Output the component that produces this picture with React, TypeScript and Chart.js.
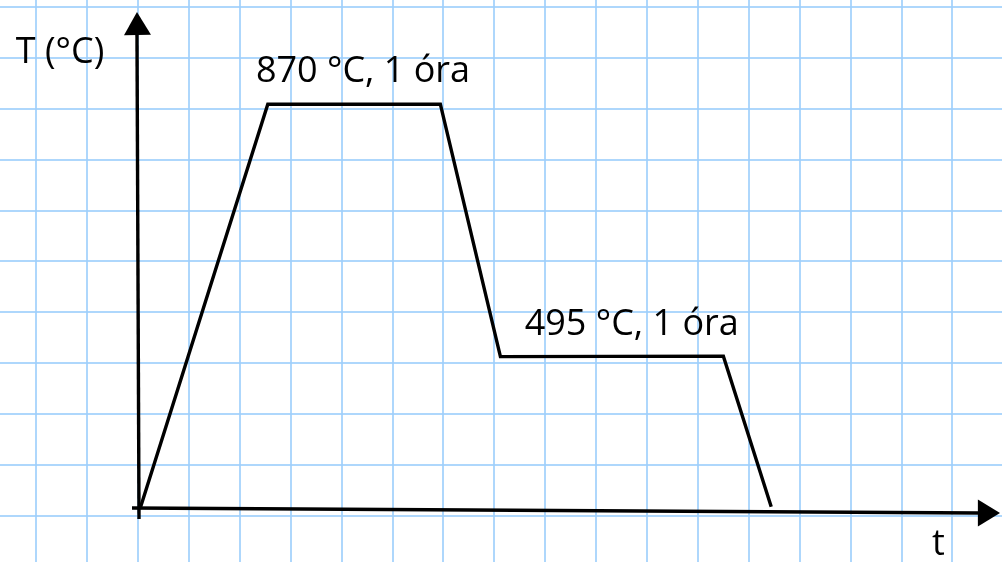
import React, { useEffect, useRef } from "react";
import { Chart, registerables } from "chart.js";

Chart.register(...registerables);

// Schematic heat-treatment profile, in grid units (1 unit = 1 grid cell)
const XMIN = -2.711;
const XMAX = 16.974;
const YMIN = -0.904;
const YMAX = 10.137;

const profileX = [0.04, 2.55, 5.94, 7.12, 11.5, 12.44];
const profileY = [0.14, 8.09, 8.09, 3.13, 3.14, 0.18];

const yAxisX = [0.02, -0.02];
const yAxisY = [-0.06, 9.45];
const xAxisX = [-0.118, 16.54];
const xAxisY = [0.157, 0.059];

// arrowheads: [tipX, tipY, baseX, baseY]
const arrowHeads = [
  [-0.02, 9.9, -0.01, 9.45],
  [16.935, 0.059, 16.5, 0.059],
];

const labelTexts = ["T (°C)", "870 °C, 1 óra", "495 °C, 1 óra", "t"];
const labelX = [-1.532, 4.42, 9.7, 15.727];
const labelY = [8.9, 8.527, 3.556, -0.766];

const FONT = '36px "Open Sans", "Noto Sans", sans-serif';
const GRID = "rgba(160, 208, 252, 0.85)";

const pts = (xs: number[], ys: number[]) => xs.map((x, i) => ({ x, y: ys[i] }));

const overlayPlugin = {
  id: "overlay",
  afterDatasetsDraw(chart: any) {
    const { ctx, scales } = chart;
    const xs = scales.x;
    const ys = scales.y;
    ctx.save();
    ctx.fillStyle = "#000";
    arrowHeads.forEach(([tx, ty, bx, by]) => {
      const px = xs.getPixelForValue(tx);
      const py = ys.getPixelForValue(ty);
      const qx = xs.getPixelForValue(bx);
      const qy = ys.getPixelForValue(by);
      const dx = px - qx;
      const dy = py - qy;
      const len = Math.hypot(dx, dy) || 1;
      const nx = -dy / len;
      const ny = dx / len;
      const hw = 13.5;
      ctx.beginPath();
      ctx.moveTo(px, py);
      ctx.lineTo(qx + nx * hw, qy + ny * hw);
      ctx.lineTo(qx - nx * hw, qy - ny * hw);
      ctx.closePath();
      ctx.fill();
    });
    ctx.font = FONT;
    ctx.textAlign = "center";
    ctx.textBaseline = "alphabetic";
    ctx.fillStyle = "#000";
    labelTexts.forEach((t, i) => {
      ctx.fillText(t, xs.getPixelForValue(labelX[i]), ys.getPixelForValue(labelY[i]));
    });
    ctx.restore();
  },
};

export default function App() {
  const ref = useRef<HTMLCanvasElement | null>(null);
  useEffect(() => {
    document.body.style.margin = "0";
    if (!ref.current) return;
    const lineDs = (data: any[], width: number) => ({
      data,
      borderColor: "#000",
      borderWidth: width,
      pointRadius: 0,
      tension: 0,
      fill: false,
      borderJoinStyle: "miter" as const,
      borderCapStyle: "butt" as const,
    });
    const chart = new Chart(ref.current, {
      type: "line",
      data: {
        datasets: [
          lineDs(pts(profileX, profileY), 3.4),
          lineDs(pts(yAxisX, yAxisY), 3.4),
          lineDs(pts(xAxisX, xAxisY), 3.4),
        ],
      },
      options: {
        animation: false,
        responsive: false,
        maintainAspectRatio: false,
        layout: { padding: 0 },
        plugins: { legend: { display: false }, tooltip: { enabled: false } },
        scales: {
          x: {
            type: "linear",
            min: XMIN,
            max: XMAX,
            ticks: { display: false, stepSize: 1, includeBounds: false },
            grid: { color: GRID, lineWidth: 2, drawTicks: false },
            border: { display: false },
          },
          y: {
            type: "linear",
            min: YMIN,
            max: YMAX,
            ticks: { display: false, stepSize: 1, includeBounds: false },
            grid: { color: GRID, lineWidth: 2, drawTicks: false },
            border: { display: false },
          },
        },
      },
      plugins: [overlayPlugin],
    });
    return () => chart.destroy();
  }, []);
  return (
    <div style={{ width: 1002, height: 562, background: "#fff" }}>
      <canvas ref={ref} width={1002} height={562} />
    </div>
  );
}
